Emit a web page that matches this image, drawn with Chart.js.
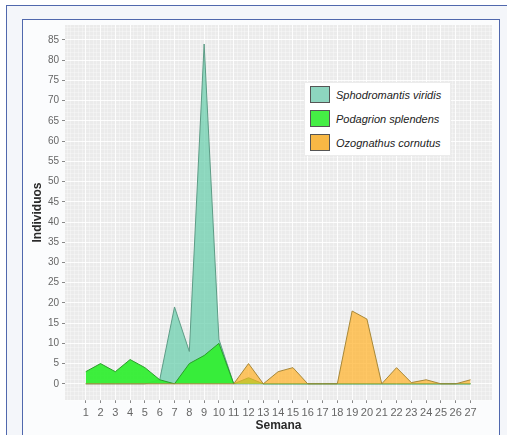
<!DOCTYPE html>
<html>
<head>
<meta charset="utf-8">
<script src="https://cdn.jsdelivr.net/npm/chart.js@4/dist/chart.umd.min.js"></script>
<style>
  html, body { margin: 0; padding: 0; background: #ffffff; }
  body { width: 507px; height: 435px; position: relative; overflow: hidden; font-family: "Liberation Sans", Arial, sans-serif; }
  .outer { position: absolute; left: 6px; top: 5px; width: 520px; height: 460px; border: 1.5px solid #5068ad; background: #f4f6fa; box-sizing: border-box; }
  .inner { position: absolute; left: 22px; top: 19px; width: 478px; height: 460px; border: 1.5px solid #5068ad; background: #fbfcfd; box-sizing: border-box; }
  #c { position: absolute; left: 0; top: 0; }
  .legend { position: absolute; left: 304px; top: 82px; width: 147px; height: 74px; background: #ffffff; border: 1px solid #ececec; box-sizing: border-box; }
  .legend .row { position: absolute; left: 5px; height: 17px; display: flex; align-items: center; }
  .legend .sw { width: 20px; height: 17px; box-sizing: border-box; border: 1.2px solid #555; margin-right: 6px; }
  .legend .lb { font-style: italic; font-size: 11px; color: #222; white-space: nowrap; }
</style>
</head>
<body>
<div class="outer"></div>
<div class="inner"></div>
<canvas id="c" width="507" height="435"></canvas>
<div class="legend" id="legend"></div>
<script>
// Weekly counts per species
const semanas = [1,2,3,4,5,6,7,8,9,10,11,12,13,14,15,16,17,18,19,20,21,22,23,24,25,26,27];
const sphodromantis = [0,0,0,0,0,1,19,8,84,11,0,0,0,0,0,0,0,0,0,0,0,0,0,0,0,0,0];
const podagrion     = [3,5,3,6,4,1,0,5,7,10,0,1.5,0,0,0,0,0,0,0,0,0,0,0,0,0,0,0];
const ozognathus    = [0,0,0,0,0,0,0,0,0,0,0,5,0,3,4,0,0,0,18,16,0,4,0.3,1,0,0,1];
const especies = ['Sphodromantis viridis', 'Podagrion splendens', 'Ozognathus cornutus'];

const fills   = ['rgba(102,205,170,0.72)', 'rgba(51,238,51,0.95)', 'rgba(255,180,50,0.75)'];
const borders = ['#5d9c86', '#2a9e2a', '#a88838'];
const swatches = ['#8dd5bf', '#45ee45', '#f8b845'];

const series = [sphodromantis, podagrion, ozognathus];
const datasets = series.map((vals, i) => ({
  label: especies[i],
  data: semanas.map((s, k) => ({ x: s, y: vals[k] })),
  fill: 'origin',
  backgroundColor: fills[i],
  borderColor: borders[i],
  borderWidth: 1,
  pointRadius: 0,
  tension: 0,
  order: 3 - i
}));

// grey panel behind the plotting area
const panelBg = {
  id: 'panelBg',
  beforeDraw(chart) {
    const { ctx, chartArea: a } = chart;
    ctx.save();
    ctx.fillStyle = '#ebebeb';
    ctx.fillRect(a.left, a.top, a.right - a.left, a.bottom - a.top);
    ctx.restore();
  }
};

function denseTicks(step) {
  return (scale) => {
    const out = [];
    const start = Math.ceil(scale.min / step) * step;
    for (let v = start; v <= scale.max + 1e-9; v += step) {
      out.push({ value: Math.round(v * 1000) / 1000 });
    }
    scale.ticks = out;
  };
}

const isYMajor = v => v >= 0 && v % 5 === 0;
const isXMajor = v => Number.isInteger(v) && v >= 1 && v <= 27;

new Chart(document.getElementById('c'), {
  type: 'line',
  data: { datasets },
  options: {
    responsive: false,
    animation: false,
    devicePixelRatio: 1,
    layout: { padding: { left: 26, right: 15, top: 25, bottom: 0 } },
    plugins: { legend: { display: false }, tooltip: { enabled: false } },
    scales: {
      x: {
        type: 'linear',
        min: -0.4,
        max: 28.45,
        afterBuildTicks: denseTicks(0.25),
        afterFit(scale) { scale.height = 35; },
        border: { display: false },
        grid: {
          drawTicks: true,
          tickLength: 3,
          color: ctx => isXMajor(ctx.tick.value) ? 'rgba(255,255,255,0.9)' : 'rgba(255,255,255,0.5)',
          lineWidth: ctx => isXMajor(ctx.tick.value) ? 1 : 0.6,
          tickColor: ctx => isXMajor(ctx.tick.value) ? '#888' : 'rgba(0,0,0,0)'
        },
        ticks: {
          autoSkip: false,
          maxRotation: 0,
          padding: 3,
          color: '#666',
          font: { family: 'Liberation Sans', size: 11 },
          callback: v => isXMajor(v) ? String(v) : ''
        },
        title: {
          display: true,
          text: 'Semana',
          color: '#2a2a2a',
          font: { family: 'Liberation Sans', size: 12, weight: 'bold' },
          padding: { top: 0, bottom: 2 }
        }
      },
      y: {
        type: 'linear',
        min: -4,
        max: 88.7,
        afterBuildTicks: denseTicks(1),
        afterFit(scale) { scale.width = 39; },
        border: { display: false },
        grid: {
          drawTicks: true,
          tickLength: 3,
          color: ctx => isYMajor(ctx.tick.value) ? 'rgba(255,255,255,0.9)' : 'rgba(255,255,255,0.5)',
          lineWidth: ctx => isYMajor(ctx.tick.value) ? 1 : 0.6,
          tickColor: ctx => isYMajor(ctx.tick.value) ? '#888' : 'rgba(0,0,0,0)'
        },
        ticks: {
          autoSkip: false,
          padding: 3,
          color: '#666',
          font: { family: 'Liberation Sans', size: 10 },
          callback: v => isYMajor(v) ? String(v) : ''
        },
        title: {
          display: true,
          text: 'Individuos',
          color: '#2a2a2a',
          font: { family: 'Liberation Sans', size: 12, weight: 'bold' },
          padding: { top: 4, bottom: 0 }
        }
      }
    }
  },
  plugins: [panelBg]
});

// legend box inside the panel
const legend = document.getElementById('legend');
const rowTops = [3, 27, 51];
especies.forEach((name, i) => {
  const row = document.createElement('div');
  row.className = 'row';
  row.style.top = rowTops[i] + 'px';
  const sw = document.createElement('div');
  sw.className = 'sw';
  sw.style.background = swatches[i];
  const lb = document.createElement('span');
  lb.className = 'lb';
  lb.textContent = name;
  row.appendChild(sw);
  row.appendChild(lb);
  legend.appendChild(row);
});
</script>
</body>
</html>
